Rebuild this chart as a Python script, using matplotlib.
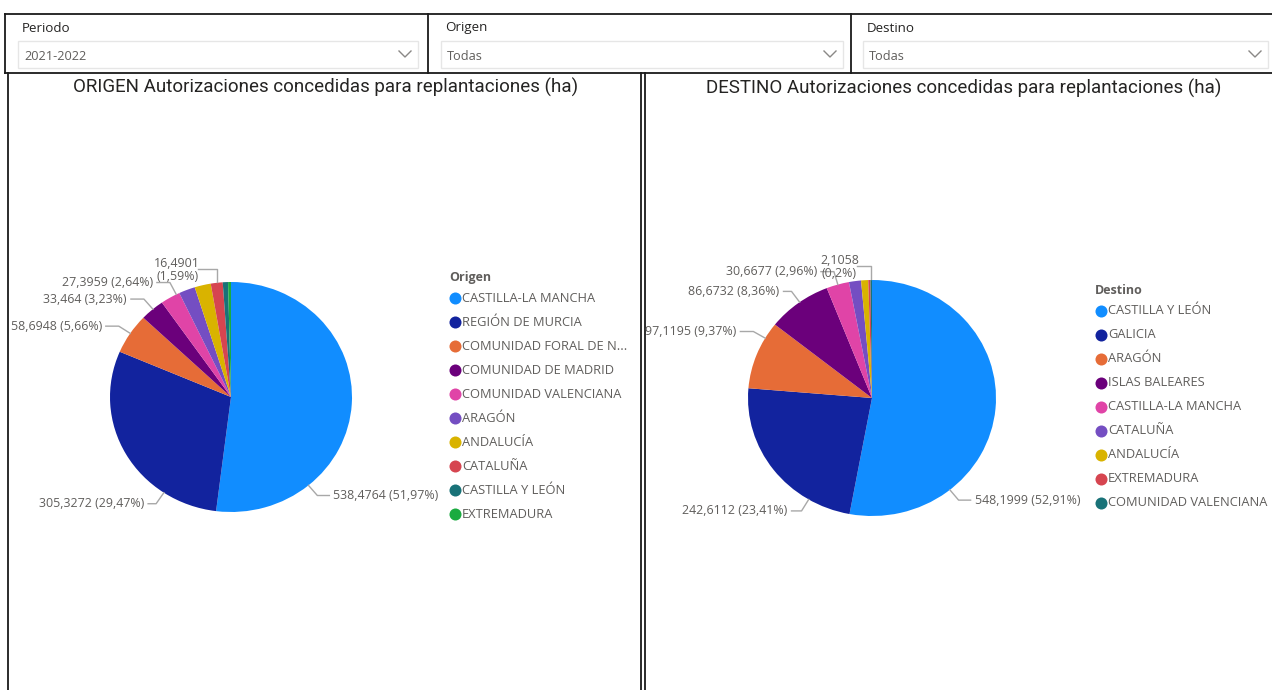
import matplotlib
matplotlib.use('Agg')
import matplotlib.pyplot as plt
import numpy as np

# ---- datos ----
periodo = '2021-2022'
filtro_origen = 'Todas'
filtro_destino = 'Todas'

origen_cats = ['CASTILLA-LA MANCHA', 'REGIÓN DE MURCIA', 'COMUNIDAD FORAL DE NAVARRA',
               'COMUNIDAD DE MADRID', 'COMUNIDAD VALENCIANA', 'ARAGÓN', 'ANDALUCÍA',
               'CATALUÑA', 'CASTILLA Y LEÓN', 'EXTREMADURA']
origen_vals = [538.4764, 305.3272, 58.6948, 33.464, 27.3959, 22.6, 22.4, 16.4901, 7.3, 4.0]

destino_cats = ['CASTILLA Y LEÓN', 'GALICIA', 'ARAGÓN', 'ISLAS BALEARES', 'CASTILLA-LA MANCHA',
                'CATALUÑA', 'ANDALUCÍA', 'EXTREMADURA', 'COMUNIDAD VALENCIANA']
destino_vals = [548.1999, 242.6112, 97.1195, 86.6732, 30.6677, 16.3, 9.6, 2.9, 2.1058]

# colores de Power BI
paleta = ['#118DFF', '#12239E', '#E66C37', '#6B007B', '#E044A7',
          '#744EC2', '#D9B300', '#D64550', '#197278', '#1AAB40']

W, H = 1272, 690
fig = plt.figure(figsize=(W / 100, H / 100), dpi=100)
fig.patch.set_facecolor('white')

FUENTE = 'Open Sans'
GRIS = '#605E5C'
OSCURO = '#252423'
LINEA = '#A8A8A8'
TAM_ETQ = 8.9


def pie_ax(cx, cy, rx, ry, vals):
    a = fig.add_axes([(cx - rx) / W, (H - (cy + ry)) / H, 2 * rx / W, 2 * ry / H])
    a.pie(vals, colors=paleta[:len(vals)], startangle=90, counterclock=False,
          radius=1, wedgeprops=dict(linewidth=0))
    a.set_xlim(-1, 1)
    a.set_ylim(-1, 1)
    a.set_aspect('auto')
    a.axis('off')


# posiciones de los pies (px)
pie_izq = (231, 397, 121, 115)
pie_der = (872, 398, 124, 118)
pie_ax(*pie_izq, origen_vals)
pie_ax(*pie_der, destino_vals)

# capa superior en pixeles (y hacia abajo)
ax = fig.add_axes([0, 0, 1, 1])
ax.set_xlim(0, W)
ax.set_ylim(H, 0)
ax.axis('off')


def fmt(v, dec):
    s = f'{v:.{dec}f}'.rstrip('0').rstrip('.')
    return s.replace('.', ',')


def etiquetas(vals, pie, layout):
    cx, cy, rx, ry = pie
    total = sum(vals)
    for idx, ang, hl, estilo in layout:
        v = vals[idx]
        tv = fmt(v, 4)
        tp = fmt(100 * v / total, 2) + '%'
        t = np.radians(ang)
        x0, y0 = cx + rx * np.cos(t), cy - ry * np.sin(t)
        if estilo == 'lado':
            d = np.array([np.cos(t) * rx, -np.sin(t) * ry])
            d = d / np.hypot(*d)
            x1, y1 = x0 + 13.5 * d[0], y0 + 13.5 * d[1]
            s = 1 if d[0] >= 0 else -1
            x2 = x1 + s * hl
            ax.plot([x0, x1, x2], [y0, y1, y1], color=LINEA, lw=1)
            ax.text(x2 + s * 4, y1, f'{tv} ({tp})', ha='left' if s > 0 else 'right',
                    va='center', fontsize=TAM_ETQ, color=GRIS, family=FUENTE)
        else:
            y1 = y0 - 14
            x2 = x0 - hl
            ax.plot([x0, x0, x2], [y0 - 1, y1, y1], color=LINEA, lw=1)
            ax.text(x2 + 2, y1 + 1, f'{tv}\n({tp})', ha='right', va='center',
                    multialignment='center', fontsize=TAM_ETQ, color=GRIS, family=FUENTE,
                    linespacing=1.0)


etiquetas(origen_vals, pie_izq, [(0, -50.2, 12, 'lado'), (1, -123.7, 8, 'lado'),
                                 (2, 146.4, 13, 'lado'), (3, 130.2, 13, 'lado'),
                                 (4, 116.9, 13, 'lado'), (7, 96.6, 19, 'arriba')])
etiquetas(destino_vals, pie_der, [(0, -51.1, 12, 'lado'), (1, -120.7, 10, 'lado'),
                                  (2, 149.5, 13, 'lado'), (3, 125.7, 8, 'lado'),
                                  (4, 106.0, 13, 'lado'), (8, 90.5, 14, 'arriba')])


def leyenda(x, y, titulo, cats):
    ax.text(x - 6, y, titulo, fontsize=9, fontweight='bold', color=GRIS,
            family=FUENTE, va='center', ha='left')
    for i, c in enumerate(cats):
        yy = y + 21 + 24 * i
        ax.scatter([x], [yy], s=75, color=paleta[i], linewidths=0)
        txt = c if len(c) <= 21 else c[:20] + '...'
        ax.text(x + 7, yy, txt, fontsize=9.3, color=GRIS, family=FUENTE,
                va='center', ha='left')


leyenda(455, 277, 'Origen', origen_cats)
leyenda(1101, 290, 'Destino', destino_cats)

# titulos
ax.text(326, 87, 'ORIGEN Autorizaciones concedidas para replantaciones (ha)',
        ha='center', va='center', fontsize=13.5, color=OSCURO, family='Roboto')
ax.text(964, 88, 'DESTINO Autorizaciones concedidas para replantaciones (ha)',
        ha='center', va='center', fontsize=13.5, color=OSCURO, family='Roboto')

# segmentadores
slicers = [(18, 418, 'Periodo', periodo), (441, 843, 'Origen', filtro_origen),
           (863, 1268, 'Destino', filtro_destino)]
for x0, x1, cab, val in slicers:
    ax.text(x0 + 4, 28, cab, fontsize=9.6, color=OSCURO, family=FUENTE, va='center')
    ax.add_patch(plt.Rectangle((x0, 41), x1 - x0, 27, fill=False, ec='#E6E6E6', lw=1))
    ax.text(x0 + 6, 56, val, fontsize=9.2, color=GRIS, family=FUENTE, va='center')
    cxv = x1 - 13
    ax.plot([cxv - 6, cxv, cxv + 6], [51, 57, 51], color='#8A8886', lw=1)

# bordes
negro = '#1A1A1A'
ax.plot([5, W], [14, 14], color=negro, lw=1.3)
ax.plot([5, 5], [14, 73], color=negro, lw=1.3)
for xs in (428, 851):
    ax.plot([xs, xs], [14, 73], color=negro, lw=1.3)
ax.plot([5, W], [73, 73], color=negro, lw=1.3)
ax.plot([8, 8], [73, H], color=negro, lw=1.3)
ax.plot([641, 641], [73, H], color=negro, lw=1.3)
ax.plot([645, 645], [73, H], color=negro, lw=1.3)

fig.savefig('out.png', dpi=100)
